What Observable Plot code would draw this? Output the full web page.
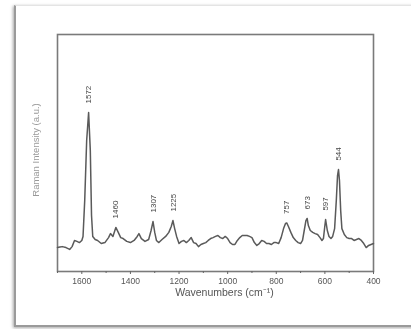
<!DOCTYPE html>
<html>
<head>
<meta charset="utf-8">
<script src="https://cdn.jsdelivr.net/npm/d3@7"></script>
<script src="https://cdn.jsdelivr.net/npm/@observablehq/plot@0.6"></script>
<style>
  html, body { margin: 0; padding: 0; background: #fff; }
  #wrap { position: relative; width: 411px; height: 329px; overflow: hidden; background: #fff; }
  #card { position: absolute; left: 14px; top: 5px; width: 420px; height: 319px;
          border-left: 2px solid #9a9a9a; border-top: 1px solid #e4e4e4; border-bottom: 2px solid #9a9a9a;
          box-shadow: -1px 1px 3px rgba(0,0,0,0.35); background: #fff; }
  #chart { position: absolute; left: 0; top: 0; }
  #chart svg { filter: blur(0.45px); }
</style>
</head>
<body>
<div id="wrap"><div id="card"></div><div id="chart"></div></div>
<script>
const wavenumbers = [1700,1690,1680,1665,1650,1640,1630,1620,1610,1600,1595,1588,1580,1572,1565,1560,1555,1545,1535,1520,1505,1490,1482,1472,1460,1450,1440,1430,1415,1400,1385,1372,1365,1355,1340,1325,1315,1307,1300,1293,1283,1270,1255,1242,1232,1225,1218,1210,1200,1190,1180,1170,1160,1150,1140,1130,1120,1110,1100,1090,1080,1070,1060,1050,1040,1030,1020,1010,1000,990,980,970,960,950,940,930,920,910,900,890,880,870,860,850,840,830,820,810,800,790,780,770,762,757,750,740,730,720,710,700,692,685,678,673,668,660,650,640,630,620,612,606,600,597,590,583,575,568,560,553,548,544,540,535,530,520,510,500,490,480,470,460,450,440,430,420,410,400];
const intensity = [10.1,10.3,10.5,10.1,9.3,10.5,13.1,12.7,12.2,13.1,14.8,30,55.3,67.1,51,23.6,14.8,13.5,13.1,11.8,12.2,14.3,16,14.8,18.6,16.5,14.3,13.9,12.7,12.2,13.1,14.8,16,13.9,12.7,13.5,17.3,21.1,16.5,13.1,12.2,13.5,14.8,16.5,19,21.5,18.1,14.8,11.8,12.7,13.1,12.2,13.1,14.3,12.2,11.8,10.5,11.4,11.8,12.2,13.1,13.9,14.3,14.8,15.2,14.3,13.9,14.8,13.9,12.2,11.4,11.4,13.1,14.3,15.2,15.2,15.2,14.8,14.3,12.2,11,11.8,13.1,12.7,11.8,11.8,11.4,12.2,12.2,11.8,14.3,18.1,20.3,20.5,19,16.5,14.3,13.1,12.2,11.8,13.1,17.3,21.5,22.4,19.4,17.3,16.5,16,15.6,14.3,13.1,13.9,19.4,21.9,17.3,14.8,13.9,14.8,18.1,30,40.5,43,38.4,25.7,18.1,15.6,14.3,13.9,13.9,13.1,13.5,13.9,13.1,11.8,10.1,11,11.4,11.8];

const peakLabels = ["1572","1460","1307","1225","757","673","597","544"];
const peakPositions = [1572,1460,1307,1225,757,673,597,544];
const peakHeights = [67.1,18.6,21.1,21.5,20.5,22.4,21.9,43];

const majorTicks = [1600,1400,1200,1000,800,600,400];
const minorTicks = [1700,1500,1300,1100,900,700,500];
const xLabel = "Wavenumbers (cm\u207B\u00B9)";
const yLabel = "Raman Intensity (a.u.)";

const spectrum = wavenumbers.map((w, i) => ({w, v: intensity[i]}));
const peaks = peakLabels.map((t, i) => ({t, w: peakPositions[i], v: peakHeights[i]}));

const plot = Plot.plot({
  width: 411,
  height: 329,
  marginLeft: 57,
  marginRight: 38,
  marginTop: 34,
  marginBottom: 58,
  style: {background: "transparent", fontFamily: "Liberation Sans, Arial, sans-serif"},
  x: {domain: [1700, 400]},
  y: {domain: [0, 100], axis: null},
  marks: [
    Plot.frame({stroke: "#7a7a7a", strokeWidth: 1.6}),
    Plot.axisX({ticks: majorTicks, tickSize: 3, tickPadding: 3, tickFormat: d => String(d), fontSize: 8.5, color: "#555", stroke: "#666", label: null}),
    Plot.axisX({ticks: minorTicks, tickSize: 2, text: null, stroke: "#666", label: null}),
    Plot.line(spectrum, {x: "w", y: "v", stroke: "#5a5a5a", strokeWidth: 1.5, curve: "linear"}),
    Plot.text(peaks, {x: "w", y: "v", text: "t", rotate: -90, textAnchor: "start", dy: -9, fontSize: 8, fill: "#444"}),
    Plot.text([xLabel], {frameAnchor: "bottom", dy: 24, dx: 9, text: d => d, fontSize: 10.5, fill: "#555"}),
    Plot.text([yLabel], {frameAnchor: "left", dx: -22, dy: -3, rotate: -90, textAnchor: "middle", text: d => d, fontSize: 9.5, fill: "#999"})
  ]
});
document.getElementById("chart").appendChild(plot);
</script>
</body>
</html>
